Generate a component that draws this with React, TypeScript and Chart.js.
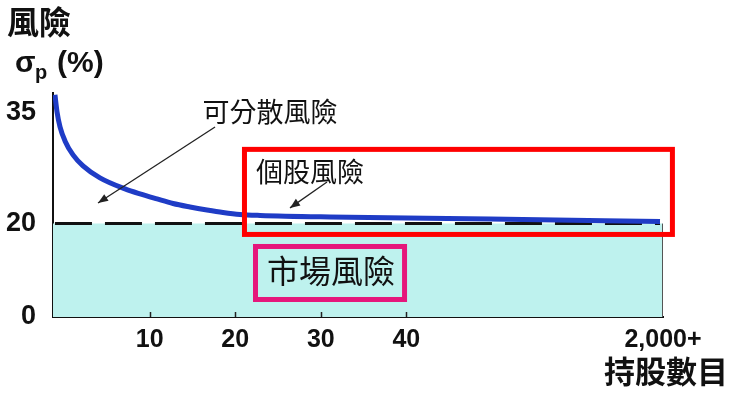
import React, { useEffect, useRef } from "react";
import { Chart, registerables } from "chart.js";

Chart.register(...registerables);

// ---- data ----
// x position on the "number of stocks" axis (the right end stands for 2,000+)
const stockPos = [-1.07, -0.83, -0.48, 0.1, 1.04, 2.21, 4.19, 7.12, 8.87, 10.86, 12.73, 14.71, 16.7, 18.57, 20.56, 22.9, 31.08, 49.78, 69.65];
// portfolio risk sigma_p (%)
const portfolioRisk = [37.45, 35.14, 33.11, 31.21, 29.31, 27.82, 26.19, 24.7, 24.02, 23.34, 22.73, 22.26, 21.85, 21.51, 21.24, 21.11, 20.9, 20.63, 20.29];
const marketRiskLevel = 20;
const xTickValues = [10, 20, 30, 40, 70];
const xTickLabels = ["10", "20", "30", "40", "2,000+"];
const yTickValues = [0, 20, 35];
const yTickLabels = ["0", "20", "35"];

// ---- axis layout (schematic axis: upper part stretched) ----
const X_MIN = -1.3;
const X_MAX = 70;
const Y_MAX_REAL = 37.7;
const UPPER_STRETCH = 1.58;
const toDisp = (v: number) => (v <= 20 ? v : 20 + (v - 20) * UPPER_STRETCH);

const LATIN = "'Liberation Sans', Arial, Helvetica, sans-serif";
const CJK = "'Noto Sans CJK TC', 'Noto Sans CJK SC', sans-serif";

export default function App() {
  const ref = useRef<HTMLCanvasElement | null>(null);

  useEffect(() => {
    document.body.style.margin = "0";
    const canvas = ref.current;
    if (!canvas) return;

    const decorPlugin = {
      id: "decor",
      afterDatasetsDraw(chart: any) {
        const ctx = chart.ctx as CanvasRenderingContext2D;
        const xs = chart.scales.x;
        const ys = chart.scales.y;
        const X = (v: number) => xs.getPixelForValue(v);
        const Y = (v: number) => ys.getPixelForValue(toDisp(v));
        ctx.save();

        // thin edge on the right of the market-risk area
        ctx.strokeStyle = "#555";
        ctx.lineWidth = 1;
        ctx.beginPath();
        ctx.moveTo(Math.round(X(X_MAX)) - 0.5, Y(marketRiskLevel));
        ctx.lineTo(Math.round(X(X_MAX)) - 0.5, chart.chartArea.bottom);
        ctx.stroke();

        // small inner tick marks on the x axis
        ctx.strokeStyle = "#222";
        ctx.lineWidth = 1.5;
        for (const v of xTickValues.slice(0, 4)) {
          const px = Math.round(X(v)) + 0.5;
          ctx.beginPath();
          ctx.moveTo(px, chart.chartArea.bottom);
          ctx.lineTo(px, chart.chartArea.bottom - 5);
          ctx.stroke();
        }

        // red box (個股風險)
        ctx.strokeStyle = "#FF0000";
        ctx.lineWidth = 5;
        const rx1 = X(21.08), rx2 = X(71.1), ry1 = Y(30.06), ry2 = Y(17.68);
        ctx.strokeRect(rx1, ry1, rx2 - rx1, ry2 - ry1);

        // magenta box (市場風險)
        ctx.strokeStyle = "#E5177B";
        ctx.lineWidth = 5;
        const mx1 = X(22.37), mx2 = X(39.79), my1 = Y(15.1), my2 = Y(3.75);
        ctx.strokeRect(mx1, my1, mx2 - mx1, my2 - my1);

        // annotation texts
        ctx.fillStyle = "#111";
        ctx.textAlign = "center";
        ctx.textBaseline = "middle";
        ctx.font = `27px ${CJK}`;
        ctx.fillText("可分散風險", X(24.06), Y(35.15));
        ctx.fillText("個股風險", X(28.74), Y(27.08));
        ctx.font = `32px ${CJK}`;
        ctx.fillText("市場風險", X(31.2), Y(9.86));

        // arrows
        const arrow = (x1: number, y1: number, x2: number, y2: number) => {
          ctx.strokeStyle = "#222";
          ctx.fillStyle = "#222";
          ctx.lineWidth = 1.3;
          ctx.beginPath();
          ctx.moveTo(x1, y1);
          ctx.lineTo(x2, y2);
          ctx.stroke();
          const a = Math.atan2(y2 - y1, x2 - x1);
          const L = 10, W = 4;
          ctx.beginPath();
          ctx.moveTo(x2, y2);
          ctx.lineTo(x2 - L * Math.cos(a) + W * Math.sin(a), y2 - L * Math.sin(a) - W * Math.cos(a));
          ctx.lineTo(x2 - L * Math.cos(a) - W * Math.sin(a), y2 - L * Math.sin(a) + W * Math.cos(a));
          ctx.closePath();
          ctx.fill();
        };
        arrow(X(17.64), Y(33.1), X(3.96), Y(22.8));
        arrow(X(30.73), Y(25.65), X(26.4), Y(22.13));

        // axis titles
        ctx.fillStyle = "#111";
        ctx.textAlign = "left";
        ctx.textBaseline = "middle";
        ctx.font = `bold 32px ${CJK}`;
        ctx.fillText("風險", 7, 22);
        ctx.textBaseline = "alphabetic";
        ctx.font = `bold 30px ${LATIN}`;
        ctx.fillText("σ", 15, 72);
        ctx.font = `bold 20px ${LATIN}`;
        ctx.fillText("p", 35, 79);
        ctx.font = `bold 30px ${LATIN}`;
        ctx.fillText("(%)", 57, 72);
        ctx.textBaseline = "middle";
        ctx.font = `bold 31px ${CJK}`;
        ctx.fillText("持股數目", 604, 371);

        ctx.restore();
      },
    };

    const chart = new Chart(canvas, {
      type: "line",
      data: {
        datasets: [
          {
            label: "分散後風險",
            data: stockPos.map((x, i) => ({ x, y: toDisp(portfolioRisk[i]) })),
            borderColor: "#1F3CC6",
            borderWidth: 5,
            pointRadius: 0,
            cubicInterpolationMode: "monotone",
            fill: false,
            order: 0,
          },
          {
            label: "市場風險線",
            data: [
              { x: stockPos[0], y: toDisp(marketRiskLevel) },
              { x: stockPos[stockPos.length - 1], y: toDisp(marketRiskLevel) },
            ],
            borderColor: "#111",
            borderWidth: 3,
            borderDash: [37, 13],
            pointRadius: 0,
            fill: false,
            order: 1,
          },
          {
            label: "市場風險",
            data: [
              { x: X_MIN, y: toDisp(marketRiskLevel) },
              { x: X_MAX, y: toDisp(marketRiskLevel) },
            ],
            borderWidth: 0,
            borderColor: "rgba(0,0,0,0)",
            backgroundColor: "#BEF2EE",
            pointRadius: 0,
            fill: "origin",
            order: 2,
          },
        ],
      },
      options: {
        responsive: false,
        animation: false,
        events: [],
        layout: { padding: { top: 93, right: 77, left: 0, bottom: 0 } },
        plugins: { legend: { display: false }, tooltip: { enabled: false }, title: { display: false } },
        scales: {
          x: {
            type: "linear",
            min: X_MIN,
            max: X_MAX,
            grid: { display: false },
            border: { display: true, color: "#111", width: 2 },
            afterBuildTicks: (scale: any) => {
              scale.ticks = xTickValues.map((v) => ({ value: v }));
            },
            afterFit: (scale: any) => {
              scale.height = 77;
            },
            ticks: {
              autoSkip: false,
              maxRotation: 0,
              padding: 0,
              color: "#111",
              font: { family: LATIN, size: 25, weight: "bold" },
              callback: (v: any) => {
                const i = xTickValues.indexOf(Number(v));
                return i >= 0 ? xTickLabels[i] : "";
              },
            },
          },
          y: {
            type: "linear",
            min: 0,
            max: toDisp(Y_MAX_REAL),
            grid: { display: false },
            border: { display: true, color: "#111", width: 2 },
            afterBuildTicks: (scale: any) => {
              scale.ticks = yTickValues.map((v) => ({ value: toDisp(v) }));
            },
            afterFit: (scale: any) => {
              scale.width = 53;
            },
            ticks: {
              autoSkip: false,
              padding: 9,
              color: "#111",
              font: { family: LATIN, size: 27, weight: "bold" },
              callback: (v: any) => {
                const i = yTickValues.map(toDisp).findIndex((t) => Math.abs(t - Number(v)) < 1e-6);
                return i >= 0 ? yTickLabels[i] : "";
              },
            },
          },
        },
      },
      plugins: [decorPlugin],
    } as any);

    return () => chart.destroy();
  }, []);

  return (
    <div style={{ width: 740, height: 394, background: "#fff" }}>
      <canvas ref={ref} width={740} height={394} style={{ display: "block" }} />
    </div>
  );
}
